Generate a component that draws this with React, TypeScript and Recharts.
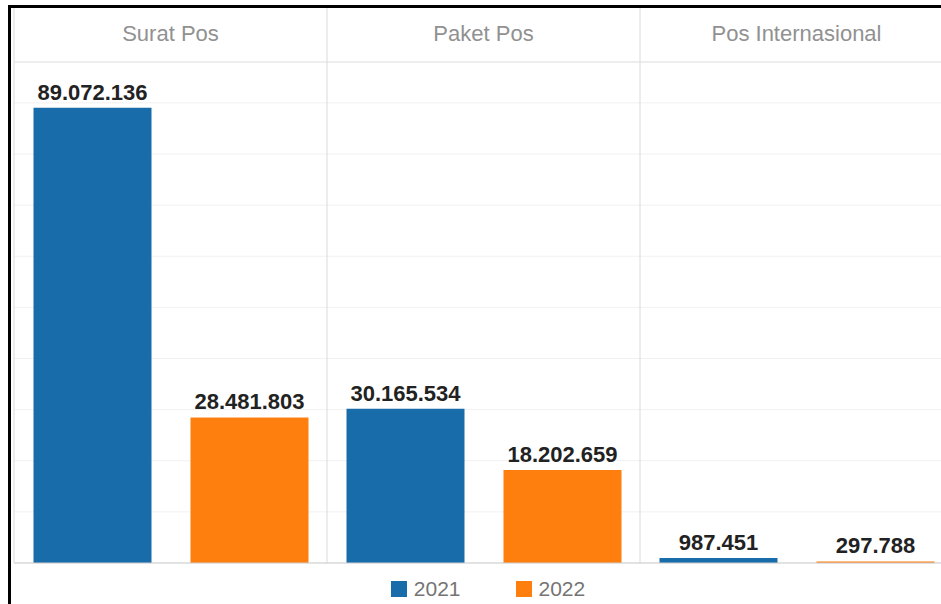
import React from "react";
import {
  BarChart,
  Bar,
  XAxis,
  YAxis,
  CartesianGrid,
  ReferenceLine,
  Legend,
  LabelList
} from "recharts";

// data
const CATEGORIES = ["Surat Pos", "Paket Pos", "Pos Internasional"];
const VALUES_2021 = [89072136, 30165534, 987451];
const VALUES_2022 = [28481803, 18202659, 297788];
const Y_TICKS = [0, 10000000, 20000000, 30000000, 40000000, 50000000, 60000000, 70000000, 80000000, 90000000];
const Y_MAX = 98000000;

const BLUE = "#176ca9";
const ORANGE = "#fe7f0e";
const FONT = "'Liberation Sans', Arial, Helvetica, sans-serif";

const CHART_W = 942;
const CHART_H = 596;
const MARGIN = { top: 0, right: 0, bottom: 7, left: 3 };
const PLOT_W = CHART_W - MARGIN.left - MARGIN.right;

const data = CATEGORIES.map((name, i) => ({
  name,
  "2021": VALUES_2021[i],
  "2022": VALUES_2022[i]
}));

// 89072136 -> "89.072.136"
const formatId = (v: any) => String(v).replace(/\B(?=(\d{3})+(?!\d))/g, ".");

const HeaderTick = (props: any) => {
  const { x, y, payload } = props;
  const band = PLOT_W / CATEGORIES.length;
  return (
    <g>
      <line x1={x - band / 2} x2={x - band / 2} y1={0} y2={y} stroke="#dadada" />
      <text
        x={x}
        y={y - 21}
        textAnchor="middle"
        fontSize={22}
        fill="#919191"
        fontFamily={FONT}
      >
        {payload.value}
      </text>
    </g>
  );
};

const LegendContent = (props: any) => {
  const items = props.payload || [];
  return (
    <div
      style={{
        display: "flex",
        justifyContent: "center",
        boxSizing: "border-box",
        height: 34,
        paddingTop: 17,
        paddingLeft: 9,
        fontFamily: FONT
      }}
    >
      {items.map((entry: any, i: number) => (
        <div
          key={entry.value}
          style={{ display: "flex", alignItems: "center", marginRight: i < items.length - 1 ? 55 : 0 }}
        >
          <span style={{ display: "inline-block", width: 16, height: 16, background: entry.color, marginRight: 7 }} />
          <span style={{ fontSize: 21, lineHeight: "16px", color: "#747474" }}>{entry.value}</span>
        </div>
      ))}
    </div>
  );
};

export default function App() {
  return (
    <div
      style={{
        position: "fixed",
        left: 8,
        top: 5,
        width: 930,
        height: 596,
        borderLeft: "3px solid #000",
        borderTop: "3px solid #000",
        overflow: "hidden",
        background: "#fff"
      }}
    >
      <style>{"html,body{overflow:hidden}"}</style>
      <BarChart
        width={CHART_W}
        height={CHART_H}
        data={data}
        margin={MARGIN}
        barCategoryGap={19.5}
        barGap={39}
      >
        <CartesianGrid vertical={false} stroke="#f1f1f1" />
        <CartesianGrid
          horizontal={false}
          stroke="#dadada"
          verticalCoordinatesGenerator={({ offset }: any) =>
            CATEGORIES.map((_, i) => offset.left + (i * offset.width) / CATEGORIES.length)
          }
        />
        <XAxis
          dataKey="name"
          orientation="top"
          height={54}
          tickSize={0}
          tickMargin={0}
          tickLine={false}
          axisLine={{ stroke: "#e3e3e3" }}
          interval={0}
          tick={<HeaderTick />}
        />
        <YAxis hide domain={[0, Y_MAX]} ticks={Y_TICKS} />
        <ReferenceLine y={0} stroke="#cccccc" />
        <Legend verticalAlign="bottom" content={<LegendContent />} />
        <Bar dataKey="2021" fill={BLUE} isAnimationActive={false}>
          <LabelList
            dataKey="2021"
            position="top"
            offset={8}
            formatter={formatId}
            fill="#222"
            fontSize={22}
            fontWeight="bold"
            fontFamily={FONT}
          />
        </Bar>
        <Bar dataKey="2022" fill={ORANGE} isAnimationActive={false}>
          <LabelList
            dataKey="2022"
            position="top"
            offset={8}
            formatter={formatId}
            fill="#222"
            fontSize={22}
            fontWeight="bold"
            fontFamily={FONT}
          />
        </Bar>
      </BarChart>
    </div>
  );
}
